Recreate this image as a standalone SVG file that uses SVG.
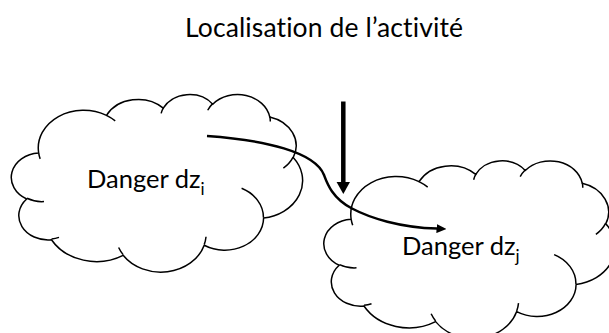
<svg xmlns="http://www.w3.org/2000/svg" xmlns:xlink="http://www.w3.org/1999/xlink" width="609" height="333" viewBox="0 0 609 333">
<style>
.cloud{fill:#fff;stroke:#000;stroke-width:1.5;stroke-linejoin:round}
.inner{fill:none;stroke:#000;stroke-width:1.5}
.txt{font-family:Lato,"Open Sans",sans-serif;fill:#000;font-variant-ligatures:none}
.lbl{font-size:25.5px}
.sub{font-size:17px}
.conn{fill:none;stroke:#000}
</style>
<defs>
<path id="cloudShape" d="M26.18,59.04 A45.33,37.76 0 0 1 94.01,21.37 A35.80,29.86 0 0 1 150.75,14.10 A29.30,24.43 0 0 1 200.27,10.19 A32.60,27.10 0 0 1 257.23,22.91 A35.80,29.88 0 0 1 280.72,63.52 A45.48,37.88 0 0 1 251.09,124.10 A38.83,32.32 0 0 1 191.70,151.26 A45.33,37.86 0 0 1 110.63,161.33 A51.82,43.32 0 0 1 38.97,145.74 A29.27,24.32 0 0 1 14.19,104.97 A29.17,24.43 0 0 1 26.18,59.04 Z"/>
<path id="cloudInner" d="M31.50,107.56 A29.17,24.43 0 0 1 14.50,104.28 M46.51,143.39 A29.27,24.32 0 0 1 39.07,144.96 M110.62,160.61 A45.33,37.86 0 0 1 106.13,153.46 M193.52,142.79 A45.33,37.86 0 0 1 191.72,150.63 M229.11,94.31 A38.83,32.32 0 0 1 250.93,123.63 M280.59,63.09 A35.80,29.88 0 0 1 270.87,74.08 M257.27,22.29 A32.60,27.10 0 0 1 257.78,27.49 M195.20,16.24 A32.60,27.10 0 0 1 200.18,9.62 M148.63,19.39 A29.30,24.43 0 0 1 151.04,13.68 M93.98,21.33 A45.33,37.76 0 0 1 102.71,26.87 M27.70,64.87 A45.33,37.76 0 0 1 26.18,59.04"/>
<marker id="headBig" markerUnits="userSpaceOnUse" viewBox="0 0 12.5 14" refX="0.5" refY="7" markerWidth="12.5" markerHeight="14" orient="auto">
<path d="M0,0 L12.5,7 L0,14 Z" fill="#000"/>
</marker>
<marker id="headSmall" markerUnits="userSpaceOnUse" viewBox="0 0 10 9" refX="0.5" refY="4.5" markerWidth="10" markerHeight="9" orient="auto">
<path d="M0,0 L10,4.5 L0,9 Z" fill="#000"/>
</marker>
</defs>
<rect width="609" height="333" fill="#fff"/>
<text id="title" class="txt" x="324" y="36.7" font-size="26.5" text-anchor="middle" textLength="278" lengthAdjust="spacing">Localisation de l’activité</text>
<g id="danger-i" transform="translate(12.5,94)">
<use xlink:href="#cloudShape" class="cloud"/>
<use xlink:href="#cloudInner" class="inner"/>
<text class="txt lbl" x="74.5" y="94">Danger dz<tspan class="sub" dy="7">i</tspan></text>
</g>
<g id="danger-j" transform="translate(325,160.3)">
<use xlink:href="#cloudShape" class="cloud"/>
<use xlink:href="#cloudInner" class="inner"/>
<text class="txt lbl" x="77" y="94.7">Danger dz<tspan class="sub" dy="7">j</tspan></text>
</g>
<g id="connectors">
<path class="conn" stroke-width="2.5" marker-end="url(#headSmall)" d="M207,136 C265,140 315,152 324,175 C327,183 332,198 352,208.5 C370,218 400,227.5 437,228.6"/>
<path class="conn" stroke-width="4.5" marker-end="url(#headBig)" d="M343.3,101.5 L343.3,182"/>
</g>
</svg>
